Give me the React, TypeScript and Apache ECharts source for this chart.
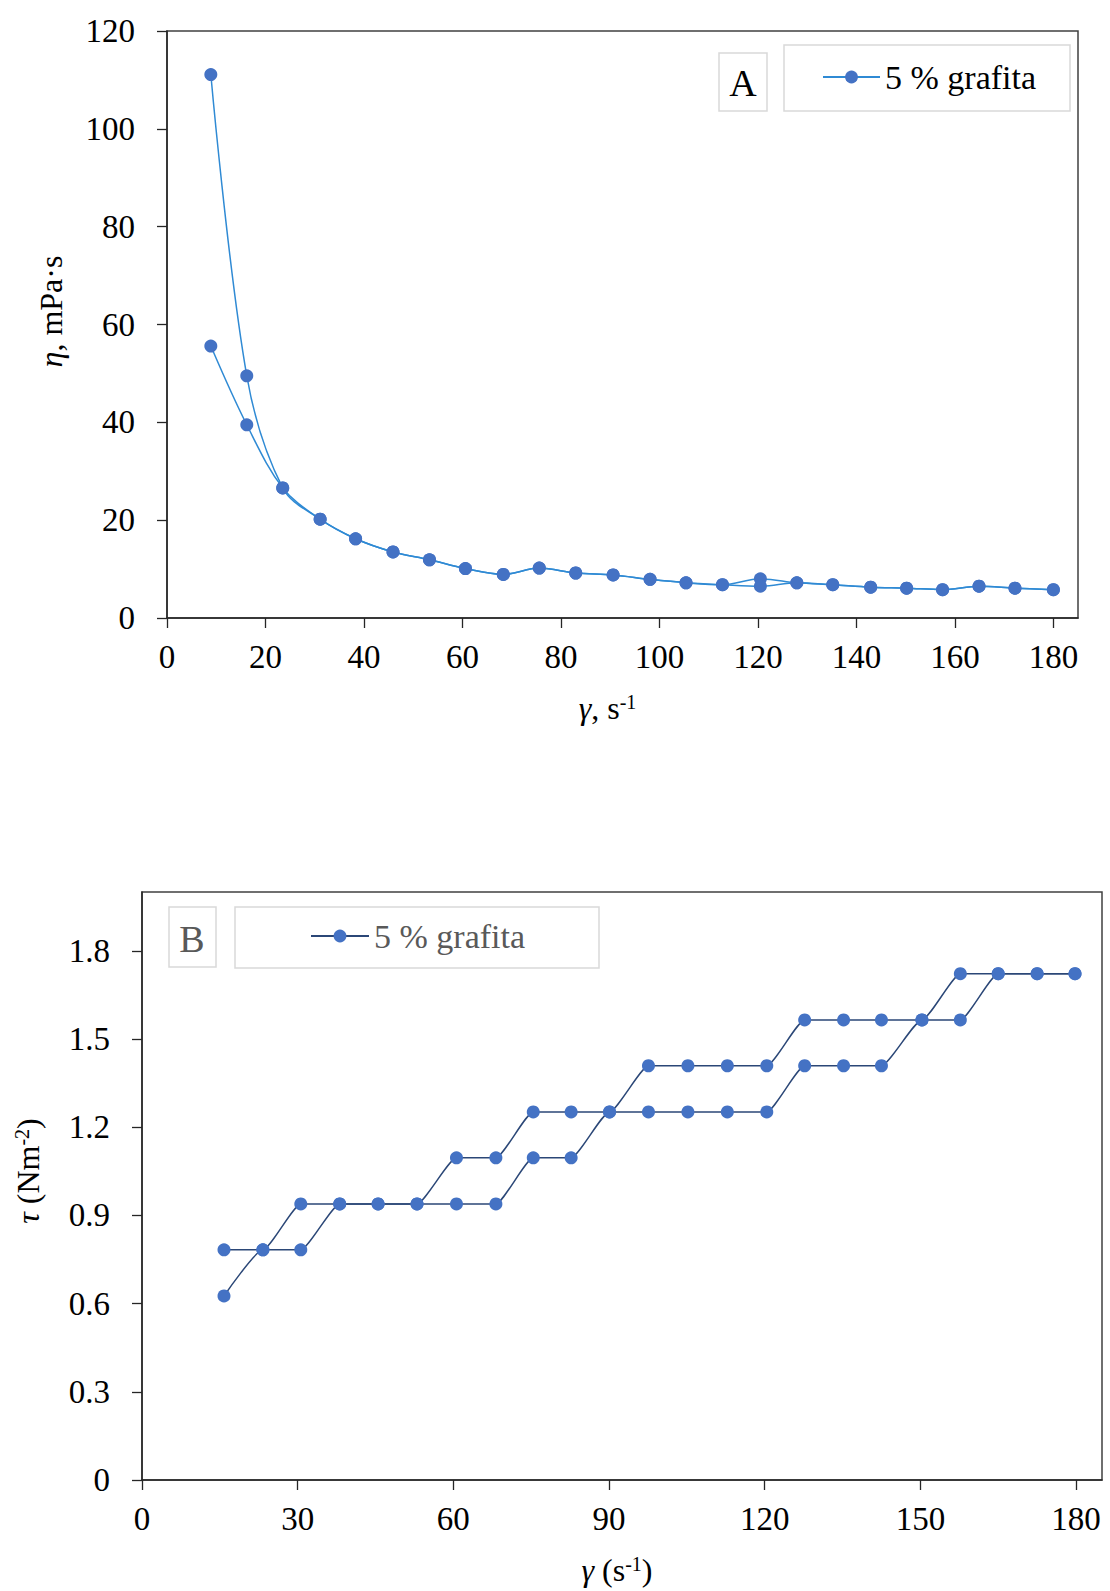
import React, { useEffect, useRef } from "react";
import * as echarts from "echarts";

// ---- Chart A data: viscosity vs shear rate ----
const shearA = [8.9, 16.2, 23.5, 31.1, 38.3, 45.9, 53.3, 60.6, 68.3, 75.6, 83.0, 90.6, 98.1, 105.4, 112.8, 120.5, 127.9, 135.2, 142.9, 150.2, 157.5, 164.9, 172.2, 180.0];
const etaUp = [55.6, 39.5, 26.6, 20.2, 16.2, 13.5, 11.9, 10.1, 8.9, 10.2, 9.2, 8.8, 7.9, 7.2, 6.8, 8.0, 7.2, 6.8, 6.3, 6.1, 5.8, 6.5, 6.1, 5.8];
const etaDown = [111.1, 49.5, 26.6, 20.2, 16.2, 13.5, 11.9, 10.1, 8.9, 10.2, 9.2, 8.8, 7.9, 7.2, 6.8, 6.5, 7.2, 6.8, 6.3, 6.1, 5.8, 6.5, 6.1, 5.8];
const ticksXA = [0, 20, 40, 60, 80, 100, 120, 140, 160, 180];
const ticksYA = [0, 20, 40, 60, 80, 100, 120];

// ---- Chart B data: shear stress vs shear rate ----
const shearB = [15.8, 23.3, 30.6, 38.1, 45.5, 53.0, 60.6, 68.2, 75.4, 82.7, 90.1, 97.6, 105.2, 112.8, 120.4, 127.7, 135.2, 142.5, 150.3, 157.7, 165.0, 172.5, 179.8];
const tauUpper = [0.783, 0.783, 0.939, 0.939, 0.939, 0.939, 1.096, 1.096, 1.252, 1.252, 1.252, 1.409, 1.409, 1.409, 1.409, 1.565, 1.565, 1.565, 1.565, 1.722, 1.722, 1.722, 1.722];
const tauLower = [0.626, 0.783, 0.783, 0.939, 0.939, 0.939, 0.939, 0.939, 1.096, 1.096, 1.252, 1.252, 1.252, 1.252, 1.252, 1.409, 1.409, 1.409, 1.565, 1.565, 1.722, 1.722, 1.722];
const ticksXB = [0, 30, 60, 90, 120, 150, 180];
const ticksYB = [0, 0.3, 0.6, 0.9, 1.2, 1.5, 1.8];

const legendName = "5 % grafita";
const legendNameB = "5 % grafita (B)";

const FONT = "'Liberation Serif', 'Times New Roman', serif";

const zip = (xs: number[], ys: number[]) => xs.map((x, i) => [x, ys[i]]);

export default function App() {
  const ref = useRef<HTMLDivElement>(null);

  useEffect(() => {
    if (!ref.current) return;
    const chart = echarts.init(ref.current, undefined, { renderer: "svg" });

    const axisLine = { show: true, lineStyle: { color: "#262626", width: 1.5 } };
    const tickStyle = (vals: number[]) => ({
      show: true,
      inside: false,
      length: 10,
      customValues: vals,
      lineStyle: { color: "#262626", width: 1.3 },
    });
    const labelStyle = (vals: number[], margin: number, fmt: (v: number) => string) => ({
      show: true,
      customValues: vals,
      margin,
      fontFamily: FONT,
      fontSize: 33,
      color: "#000",
      formatter: fmt,
    });
    const rich = {
      i: { fontFamily: FONT, fontSize: 32, fontStyle: "italic", color: "#000" },
      n: { fontFamily: FONT, fontSize: 32, color: "#000" },
      sup: { fontFamily: FONT, fontSize: 20, color: "#000", verticalAlign: "top" },
    };
    const fmtInt = (step: number) => (v: number) =>
      Math.abs(v / step - Math.round(v / step)) < 1e-6 ? String(Math.round(v)) : "";
    const fmtDec = (v: number) => {
      const k = v / 0.3;
      if (Math.abs(k - Math.round(k)) > 1e-6) return "";
      return String(Number(v.toFixed(1)));
    };

    const lineA = "#2F8AD4";
    const lineB = "#2B4777";
    const marker = "#4472C4";

    const option: any = {
      animation: false,
      backgroundColor: "#ffffff",
      grid: [
        { left: 167, top: 31, width: 911, height: 587, show: true, borderColor: "#404040", borderWidth: 1.5, containLabel: false },
        { left: 142, top: 892, width: 960, height: 588, show: true, borderColor: "#404040", borderWidth: 1.5, containLabel: false },
      ],
      xAxis: [
        {
          type: "value", gridIndex: 0, min: 0, max: 185, interval: 20,
          axisLine, axisTick: tickStyle(ticksXA), splitLine: { show: false },
          axisLabel: labelStyle(ticksXA, 22, fmtInt(20)),
          name: "{i|γ}{n|, s}{sup|-1}", nameLocation: "middle", nameGap: 74,
          nameTextStyle: { fontFamily: FONT, fontSize: 32, color: "#000", rich, padding: [0, 30, 0, 0] },
        },
        {
          type: "value", gridIndex: 1, min: 0, max: 185, interval: 30,
          axisLine, axisTick: tickStyle(ticksXB), splitLine: { show: false },
          axisLabel: labelStyle(ticksXB, 22, fmtInt(30)),
          name: "{i|γ}{n| (s}{sup|-1}{n|)}", nameLocation: "middle", nameGap: 74,
          nameTextStyle: { fontFamily: FONT, fontSize: 32, color: "#000", rich, padding: [0, 10, 0, 0] },
        },
      ],
      yAxis: [
        {
          type: "value", gridIndex: 0, min: 0, max: 120, interval: 20,
          axisLine, axisTick: tickStyle(ticksYA), splitLine: { show: false },
          axisLabel: labelStyle(ticksYA, 32, fmtInt(20)),
          name: "{i|η}{n|, mPa·s}", nameLocation: "middle", nameGap: 100, nameRotate: 90,
          nameTextStyle: { fontFamily: FONT, fontSize: 32, color: "#000", rich, padding: [0, 0, 0, 26] },
        },
        {
          type: "value", gridIndex: 1, min: 0, max: 2.0, interval: 0.3,
          axisLine, axisTick: tickStyle(ticksYB), splitLine: { show: false },
          axisLabel: labelStyle(ticksYB, 32, fmtDec),
          name: "{i|τ}{n| (Nm}{sup|-2}{n|)}", nameLocation: "middle", nameGap: 98, nameRotate: 90,
          nameTextStyle: { fontFamily: FONT, fontSize: 32, color: "#000", rich, padding: [0, 0, 0, 30] },
        },
      ],
      legend: [
        {
          data: [legendName], left: 822, top: 60, padding: 0,
          itemWidth: 57, itemHeight: 16,
          textStyle: { fontFamily: FONT, fontSize: 34, color: "#000", lineHeight: 34 },
          selectedMode: false,
        },
        {
          data: [legendNameB], left: 310, top: 919, padding: 0,
          itemWidth: 58, itemHeight: 16,
          formatter: () => legendName,
          textStyle: { fontFamily: FONT, fontSize: 34, color: "#595959", lineHeight: 34 },
          selectedMode: false,
        },
      ],
      graphic: [
        { type: "rect", shape: { x: 784, y: 45, width: 286, height: 66 }, style: { fill: "none", stroke: "#d9d9d9", lineWidth: 1.5 }, silent: true },
        { type: "rect", shape: { x: 719, y: 53, width: 48, height: 58 }, style: { fill: "none", stroke: "#d9d9d9", lineWidth: 1.5 }, silent: true },
        { type: "text", x: 743, y: 83, style: { text: "A", fontFamily: FONT, fontSize: 38, fill: "#000", align: "center", verticalAlign: "middle", textAlign: "center", textVerticalAlign: "middle" }, silent: true },
        { type: "rect", shape: { x: 235, y: 907, width: 364, height: 61 }, style: { fill: "none", stroke: "#d9d9d9", lineWidth: 1.5 }, silent: true },
        { type: "rect", shape: { x: 169, y: 907, width: 47, height: 60 }, style: { fill: "none", stroke: "#d9d9d9", lineWidth: 1.5 }, silent: true },
        { type: "text", x: 192, y: 939, style: { text: "B", fontFamily: FONT, fontSize: 38, fill: "#595959", align: "center", verticalAlign: "middle", textAlign: "center", textVerticalAlign: "middle" }, silent: true },
      ],
      series: [
        {
          name: legendName, type: "line", xAxisIndex: 0, yAxisIndex: 0, data: zip(shearA, etaUp),
          smooth: 0.35, symbol: "circle", symbolSize: 13,
          lineStyle: { color: lineA, width: 1.5 }, itemStyle: { color: marker },
        },
        {
          name: legendName, type: "line", xAxisIndex: 0, yAxisIndex: 0, data: zip(shearA, etaDown),
          smooth: 0.35, symbol: "circle", symbolSize: 13,
          lineStyle: { color: lineA, width: 1.5 }, itemStyle: { color: marker },
        },
        {
          name: legendNameB, type: "line", xAxisIndex: 1, yAxisIndex: 1, data: zip(shearB, tauUpper),
          smooth: 0.15, symbol: "circle", symbolSize: 13,
          lineStyle: { color: lineB, width: 1.5 }, itemStyle: { color: marker },
        },
        {
          name: legendNameB, type: "line", xAxisIndex: 1, yAxisIndex: 1, data: zip(shearB, tauLower),
          smooth: 0.15, symbol: "circle", symbolSize: 13,
          lineStyle: { color: lineB, width: 1.5 }, itemStyle: { color: marker },
        },
      ],
    };

    chart.setOption(option);
    return () => chart.dispose();
  }, []);

  return (
    <div
      ref={ref}
      style={{ position: "absolute", left: 0, top: 0, width: 1110, height: 1591, background: "#fff" }}
    />
  );
}
